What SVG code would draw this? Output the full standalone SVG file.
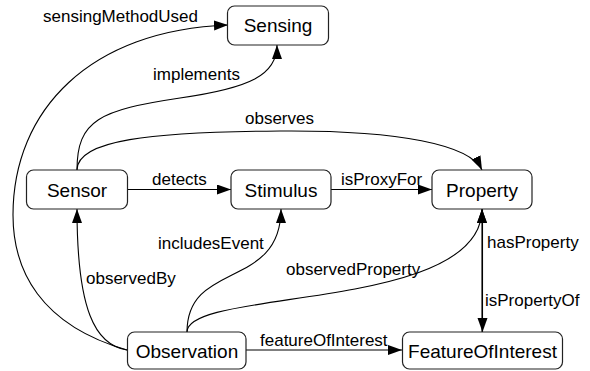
<svg xmlns="http://www.w3.org/2000/svg" width="590" height="371" viewBox="0 0 590 371">
<style>
.node rect{fill:#fff;stroke:#222;stroke-width:1.2}
.node text{font-family:"Liberation Sans",Arial,sans-serif;font-size:19px;fill:#000;text-anchor:middle}
.edges path{fill:none;stroke:#000;stroke-width:1.1}
.lbl{font-family:"Liberation Sans",Arial,sans-serif;font-size:17px;fill:#000}
</style>
<defs>
<marker id="arr" markerUnits="userSpaceOnUse" markerWidth="15" markerHeight="11" refX="14" refY="5" orient="auto">
<path d="M0,0 L14,5 L0,10 z" fill="#000"/>
</marker>
</defs>
<rect width="590" height="371" fill="#fff"/>
<g id="connectors" class="edges">
<path id="e-sensingMethodUsed" d="M127,350 C40,325 13,270 13,215 C13,110 90,30 228,25" marker-end="url(#arr)"/>
<path id="e-implements" d="M77,170 C77,120 100,110 180,98 C250,88 277,75 277,45" marker-end="url(#arr)"/>
<path id="e-observes" d="M77,170 C77,140 150,132 280,131 C400,130 470,145 482,170" marker-end="url(#arr)"/>
<path id="e-detects" d="M127,189.5 L231,189.5" marker-end="url(#arr)"/>
<path id="e-isProxyFor" d="M331,189.5 L432,189.5" marker-end="url(#arr)"/>
<path id="e-observedBy" d="M127,350 C95,345 77,310 77,209" marker-end="url(#arr)"/>
<path id="e-includesEvent" d="M187,332 C187,260 281,290 281,209" marker-end="url(#arr)"/>
<path id="e-observedProperty" d="M187,332 C187,288 482,312 482,209" marker-end="url(#arr)"/>
<path id="e-hasProperty" d="M482,332 L482,209" marker-end="url(#arr)"/>
<path id="e-isPropertyOf" d="M482.5,209 L482.5,332" marker-end="url(#arr)"/>
<path id="e-featureOfInterest" d="M246,350 L402,350" marker-end="url(#arr)"/>
<text class="lbl" x="43" y="22">sensingMethodUsed</text>
<text class="lbl" x="153" y="80">implements</text>
<text class="lbl" x="245" y="124">observes</text>
<text class="lbl" x="152" y="185">detects</text>
<text class="lbl" x="341" y="185">isProxyFor</text>
<text class="lbl" x="158" y="249">includesEvent</text>
<text class="lbl" x="86" y="284">observedBy</text>
<text class="lbl" x="286" y="275">observedProperty</text>
<text class="lbl" x="487" y="248">hasProperty</text>
<text class="lbl" x="485" y="306">isPropertyOf</text>
<text class="lbl" x="260" y="346">featureOfInterest</text>
</g>
<g id="Sensing" class="node"><rect x="227.5" y="6" width="101" height="39" rx="7"/><text x="278" y="32">Sensing</text></g>
<g id="Sensor" class="node"><rect x="26.5" y="170" width="101" height="39" rx="7"/><text x="77" y="196.5">Sensor</text></g>
<g id="Stimulus" class="node"><rect x="231" y="170" width="100" height="39" rx="7"/><text x="281" y="196.5">Stimulus</text></g>
<g id="Property" class="node"><rect x="432" y="170" width="100" height="39" rx="7"/><text x="482" y="196.5">Property</text></g>
<g id="Observation" class="node"><rect x="127.5" y="332" width="118.5" height="37" rx="7"/><text x="187" y="357.5">Observation</text></g>
<g id="FeatureOfInterest" class="node"><rect x="402.5" y="332" width="160" height="37" rx="7"/><text x="482.5" y="357.5">FeatureOfInterest</text></g>
</svg>
